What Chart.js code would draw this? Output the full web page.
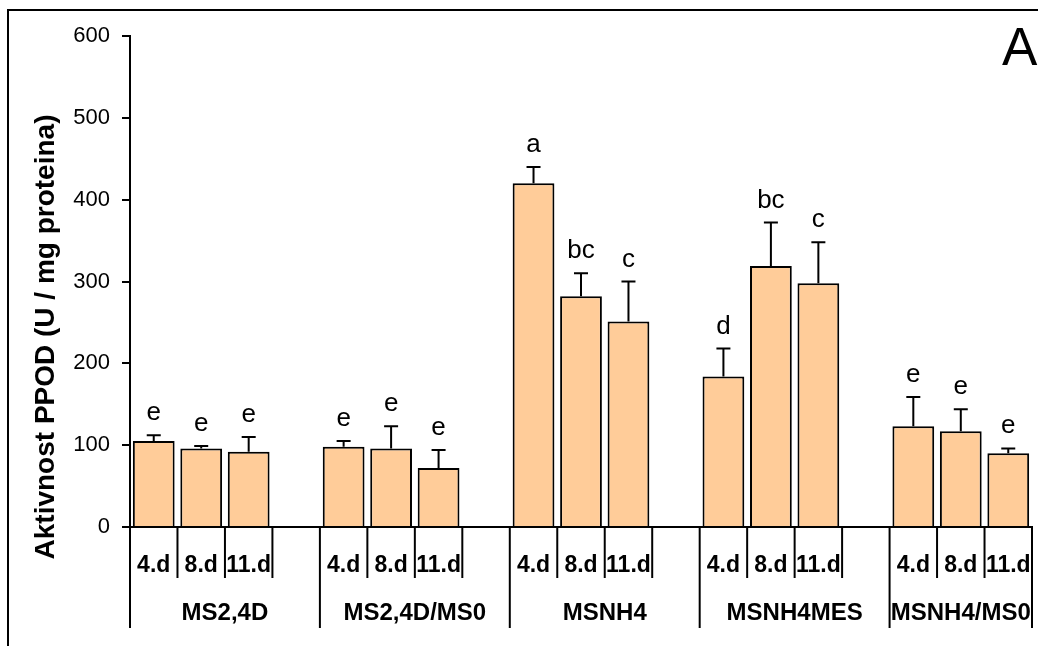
<!DOCTYPE html>
<html>
<head>
<meta charset="utf-8">
<script src="https://cdn.jsdelivr.net/npm/chart.js@4.4.1/dist/chart.umd.min.js"></script>
<style>
html, body { margin: 0; padding: 0; background: #fff; }
</style>
</head>
<body>
<canvas id="ppodChart" width="1038" height="646"></canvas>
<script>
// groups of media, each measured on three days
const groups = ['MS2,4D', 'MS2,4D/MS0', 'MSNH4', 'MSNH4MES', 'MSNH4/MS0'];
const days = ['4.d', '8.d', '11.d'];
const means = [105, 96, 92, 98, 96, 72, 420, 282, 251, 184, 319, 298, 123, 117, 90];
const errors = [7, 3, 18, 7, 27, 22, 20, 28, 49, 34, 53, 50, 36, 27, 6];
const letters = ['e', 'e', 'e', 'e', 'e', 'e', 'a', 'bc', 'c', 'd', 'bc', 'c', 'e', 'e', 'e'];
const yTicks = [0, 100, 200, 300, 400, 500, 600];

const FONT = '"Liberation Sans", Arial, sans-serif';

// build the category slots: 3 days per group plus an empty gap slot between groups
const labels = [];
const values = [];
const errs = [];
const marks = [];
const groupStart = [];
let k = 0;
groups.forEach((g, gi) => {
    groupStart.push(labels.length);
    days.forEach(d => {
        labels.push(d);
        values.push(means[k]);
        errs.push(errors[k]);
        marks.push(letters[k]);
        k++;
    });
    if (gi < groups.length - 1) {
        labels.push('');
        values.push(null);
        errs.push(null);
        marks.push(null);
    }
});

const decor = {
    id: 'decor',
    afterDatasetsDraw(chart) {
        const ctx = chart.ctx;
        const y = chart.scales.y;
        const meta = chart.getDatasetMeta(0);
        ctx.save();
        ctx.strokeStyle = '#000';
        ctx.fillStyle = '#000';
        ctx.lineWidth = 2;
        ctx.font = '26px ' + FONT;
        ctx.textAlign = 'center';
        ctx.textBaseline = 'alphabetic';
        values.forEach((v, i) => {
            if (v === null) return;
            const bx = meta.data[i].x;
            const y0 = y.getPixelForValue(v);
            const y1 = y.getPixelForValue(v + errs[i]);
            ctx.beginPath();
            ctx.moveTo(bx, y0);
            ctx.lineTo(bx, y1);
            ctx.moveTo(bx - 7, y1);
            ctx.lineTo(bx + 7, y1);
            ctx.stroke();
            ctx.fillText(marks[i], bx, y1 - 15);
        });
        ctx.restore();
    },
    afterDraw(chart) {
        const ctx = chart.ctx;
        const x = chart.scales.x;
        const area = chart.chartArea;
        const half = (x.getPixelForValue(1) - x.getPixelForValue(0)) / 2;
        ctx.save();
        ctx.strokeStyle = '#000';
        ctx.fillStyle = '#000';
        ctx.lineWidth = 2;

        // outer frame
        ctx.strokeRect(8, 10, 1100, 700);

        // category separators
        for (let i = 0; i <= labels.length; i++) {
            const px = i < labels.length ? x.getPixelForValue(i) - half : x.getPixelForValue(labels.length - 1) + half;
            const isLong = groupStart.includes(i) || i === labels.length;
            ctx.beginPath();
            ctx.moveTo(px, area.bottom);
            ctx.lineTo(px, area.bottom + (isLong ? 101 : 51));
            ctx.stroke();
        }

        // group labels
        ctx.font = 'bold 24px ' + FONT;
        ctx.textAlign = 'center';
        ctx.textBaseline = 'middle';
        groups.forEach((g, gi) => {
            const s = x.getPixelForValue(groupStart[gi]) - half;
            const e = gi < groups.length - 1 ? x.getPixelForValue(groupStart[gi + 1]) - half : x.getPixelForValue(labels.length - 1) + half;
            ctx.fillText(g, (s + e) / 2, area.bottom + 86);
        });

        // y axis title
        ctx.save();
        ctx.translate(46, 337);
        ctx.rotate(-Math.PI / 2);
        ctx.font = 'bold 28px ' + FONT;
        ctx.fillText('Aktivnost PPOD (U / mg proteina)', 0, 0);
        ctx.restore();

        // panel letter
        ctx.font = '53px ' + FONT;
        ctx.textAlign = 'left';
        ctx.textBaseline = 'alphabetic';
        ctx.fillText('A', 1002, 65);
        ctx.restore();
    }
};

const ctx = document.getElementById('ppodChart').getContext('2d');
new Chart(ctx, {
    type: 'bar',
    data: {
        labels: labels,
        datasets: [{
            label: 'Aktivnost PPOD',
            data: values,
            backgroundColor: '#FFCC99',
            borderColor: '#000',
            borderWidth: 2,
            barPercentage: 0.88,
            categoryPercentage: 1
        }]
    },
    options: {
        responsive: false,
        animation: false,
        layout: { padding: { top: 36, right: 6, left: 0, bottom: 0 } },
        plugins: {
            legend: { display: false },
            tooltip: { enabled: false }
        },
        scales: {
            x: {
                grid: { display: false },
                border: { display: true, color: '#000', width: 2 },
                ticks: {
                    color: '#000',
                    font: { family: FONT, size: 23, weight: 'bold' },
                    padding: 17,
                    maxRotation: 0,
                    autoSkip: false
                },
                afterFit: s => {
                    s.height = 119;
                    s.paddingLeft = 0;
                    s.paddingRight = 0;
                }
            },
            y: {
                min: 0,
                max: 600,
                afterBuildTicks: s => { s.ticks = yTicks.map(v => ({ value: v })); },
                grid: { drawOnChartArea: false, color: '#000', lineWidth: 2, tickLength: 8 },
                border: { display: true, color: '#000', width: 2 },
                ticks: {
                    color: '#000',
                    font: { family: FONT, size: 22 },
                    padding: 12
                },
                afterFit: s => { s.width = 130; }
            }
        }
    },
    plugins: [decor]
});
</script>
</body>
</html>
